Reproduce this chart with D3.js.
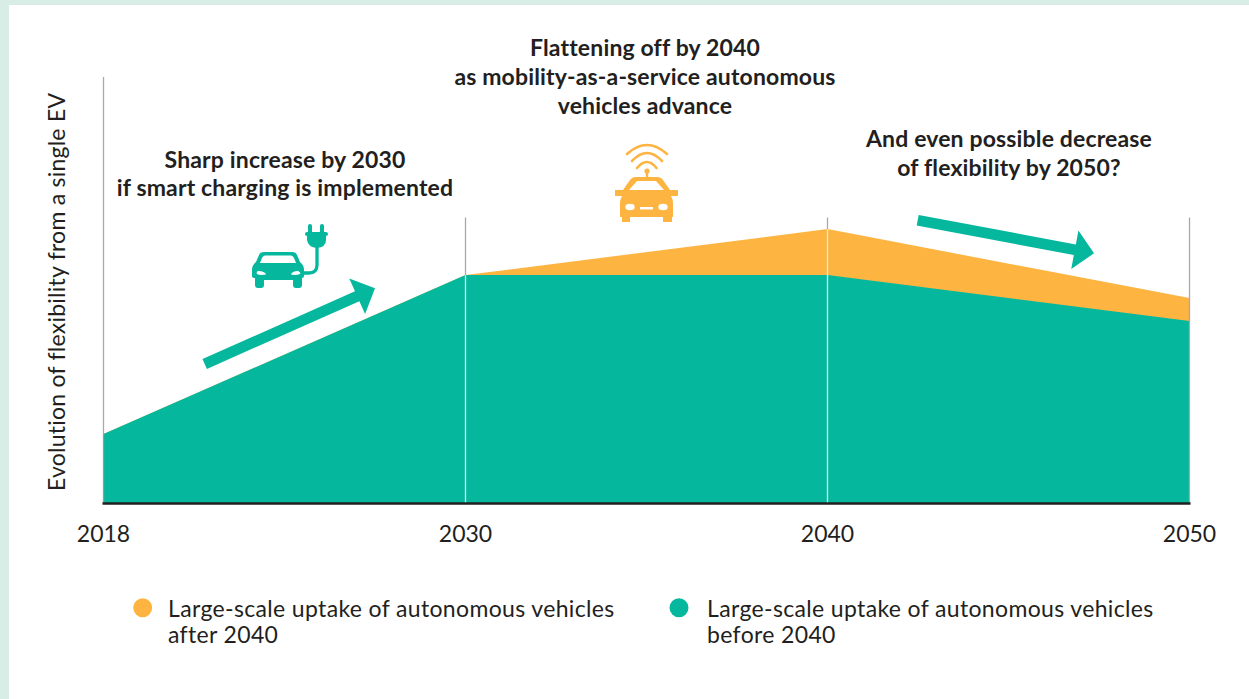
<!DOCTYPE html>
<html><head><meta charset="utf-8">
<script src="https://cdnjs.cloudflare.com/ajax/libs/d3/7.8.5/d3.min.js"></script>
<style>html,body{margin:0;padding:0;background:#fff}svg{display:block}text{font-family:Lato,sans-serif;fill:#231f20}</style>
</head><body><svg id="c" width="1249" height="699"></svg>
<script>
const years=["2018","2030","2040","2050"];
const beforeValues=[16.2,53.5,53.5,42.7];
const afterValues=[16.2,53.5,64.3,48.1];
const seriesNames=[["Large-scale uptake of autonomous vehicles","after 2040"],["Large-scale uptake of autonomous vehicles","before 2040"]];
const yAxisTitle="Evolution of flexibility from a single EV";
const notes=[
 {lines:["Sharp increase by 2030","if smart charging is implemented"],cx:285,y:[168,196]},
 {lines:["Flattening off by 2040","as mobility-as-a-service autonomous","vehicles advance"],cx:645,y:[56,85,114]},
 {lines:["And even possible decrease","of flexibility by 2050?"],cx:1009,y:[147,176]}];
const arrowsData=[{from:[204.7,364],to:[375,288.3]},{from:[917.7,220.3],to:[1094,253.3]}];
const GREEN="#05b89d",ORANGE="#fdb441";
const svg=d3.select("#c");
svg.append("rect").attr("width",1249).attr("height",699).attr("fill","#d8ede5");
svg.append("rect").attr("x",9).attr("y",5).attr("width",1240).attr("height",694).attr("fill","#fff");
const x=d3.scalePoint().domain(years).range([103.5,1189.5]);
const y=d3.scaleLinear().domain([0,100]).range([503,77]);
const area=v=>d3.area().x((d,i)=>x(years[i])).y0(y(0)).y1(d=>y(d))(v);
svg.append("path").attr("d",area(afterValues)).attr("fill",ORANGE);
svg.append("path").attr("d",area(beforeValues)).attr("fill",GREEN);
const tops={"2018":100,"2030":67,"2040":67,"2050":67};
years.forEach((yr,i)=>{
  const fillTop=y(afterValues[i]);
  svg.append("line").attr("x1",x(yr)).attr("x2",x(yr)).attr("y1",y(tops[yr])).attr("y2",fillTop).attr("stroke","#a9a9a9").attr("stroke-width",1.3);
  svg.append("line").attr("x1",x(yr)).attr("x2",x(yr)).attr("y1",fillTop).attr("y2",y(0))
     .attr("stroke",i==0?"#9a9a9a":(i==3?"#a9a9a9":"#d4efe9")).attr("stroke-width",1.3);
});
svg.append("line").attr("x1",x(years[0])-1).attr("x2",x(years[3])+1).attr("y1",y(0)+0.5).attr("y2",y(0)+0.5).attr("stroke","#231f20").attr("stroke-width",2.6);
const axis=d3.axisBottom(x).tickSize(0).tickPadding(0);
const gx=svg.append("g").attr("transform",`translate(-0.5,${y(0)})`).call(axis);
gx.select(".domain").remove();
gx.selectAll("text").attr("y",39).attr("dy",0).attr("font-size",23).style("font-family","Lato,sans-serif").attr("fill","#231f20");
svg.append("text").attr("transform","translate(65,491) rotate(-90)").attr("font-size",23).style("letter-spacing","0.24px").text(yAxisTitle);
notes.forEach(n=>n.lines.forEach((l,i)=>svg.append("text").attr("x",n.cx).attr("y",n.y[i]).attr("text-anchor","middle").attr("font-size",23).attr("font-weight",700).style("letter-spacing","0.15px").text(l)));
arrowsData.forEach(a=>{
  const dx=a.to[0]-a.from[0],dy=a.to[1]-a.from[1],L=Math.hypot(dx,dy),ang=Math.atan2(dy,dx)*180/Math.PI;
  const h=19.5,t=5.4,w=19.5;
  svg.append("path").attr("transform",`translate(${a.from[0]},${a.from[1]}) rotate(${ang})`)
    .attr("d",d3.line()([[0,-t],[L-h,-t],[L-h,-w],[L,0],[L-h,w],[L-h,t],[0,t]])+"Z").attr("fill",GREEN);
});
// EV icon
const ev=svg.append("g").attr("fill",GREEN);
ev.append("path").attr("fill-rule","evenodd").attr("d","M264 252 H292 Q296 252 297 255 L300 262 Q304 265 304 270 V276 Q304 278 302 278 V285 Q302 288 299 288 H296 Q293 288 293 285 V280 H264 V285 Q264 288 261 288 H258 Q255 288 255 285 V278 Q252 278 252 276 V270 Q252 265 256 262 L259 255 Q260 252 264 252 Z M265 255.5 Q263 255.5 262 258 L260 263 H296 L294 258 Q293 255.5 291 255.5 Z M258 271 Q256 272 257 274 Q260 275.5 266 274.5 Q265 271 258 271 Z M298 271 Q292 271 291 274.5 Q296 275.5 300 274 Q301 272 298 271 Z");
ev.append("path").attr("fill","none").attr("stroke",GREEN).attr("stroke-width",3.3).attr("d","M304 273 H309 Q317 273 317 265 V245");
ev.append("path").attr("d","M307 236 Q305 236 305 234 Q305 232 307 232 H326 Q328 232 328 234 Q328 236 326 236 V240 Q326 247 317 248 Q308 247 307 240 Z");
ev.append("rect").attr("x",308).attr("y",224).attr("width",4).attr("height",10).attr("rx",2);
ev.append("rect").attr("x",320).attr("y",224).attr("width",4).attr("height",10).attr("rx",2);
// AV icon
const av=svg.append("g").attr("fill",ORANGE);
av.append("path").attr("fill-rule","evenodd").attr("d","M636 177 H657 Q661 177 663 180 L670 190 H678 V196 H671 Q673 199 673 204 V217 H672 V222 H663 V217 H630 V222 H622 V217 H620 V204 Q620 199 622 196 H615 V190 H623 L630 180 Q632 177 636 177 Z M637 181 L629 190 H664 L656 181 Z M630 203.7 Q625.3 203.7 625.3 207 Q625.3 210.3 630 210.3 Q634.7 210.3 634.7 207 Q634.7 203.7 630 203.7 Z M663 203.7 Q658.3 203.7 658.3 207 Q658.3 210.3 663 210.3 Q667.7 210.3 667.7 207 Q667.7 203.7 663 203.7 Z M640 207 V209.5 H653 V207 Z");
av.append("rect").attr("x",645.8).attr("y",172).attr("width",2.4).attr("height",6);
av.append("circle").attr("cx",647).attr("cy",171).attr("r",2.6);
["M637 168 Q647 156 656.5 168","M632 161 Q647 145 662 161","M627 154 Q647 136 667 154"].forEach(d=>av.append("path").attr("d",d).attr("fill","none").attr("stroke",ORANGE).attr("stroke-width",2.6).attr("stroke-linecap","round"));
// legend
const legendX=[142.7,679],textX=[168,707];
seriesNames.forEach((n,i)=>{
  svg.append("circle").attr("cx",legendX[i]).attr("cy",607.7).attr("r",9.5).attr("fill",i==0?ORANGE:GREEN);
  n.forEach((l,j)=>svg.append("text").attr("x",textX[i]).attr("y",617+j*26).attr("font-size",23).style("letter-spacing","0.35px").text(l));
});
</script></body></html>
